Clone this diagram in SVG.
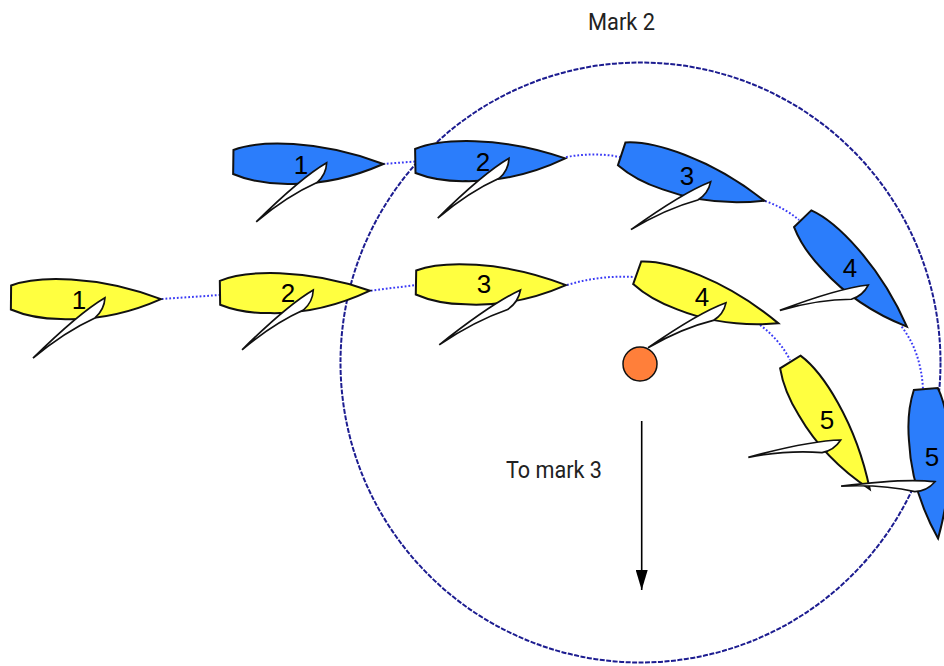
<svg xmlns="http://www.w3.org/2000/svg" xmlns:xlink="http://www.w3.org/1999/xlink" width="944" height="666" viewBox="0 0 944 666">
<style>
.hull{stroke:#111;stroke-width:2;stroke-linejoin:miter}
.blue{fill:#2b7dfb}
.yellow{fill:#ffff40}
.sail{fill:#fff;stroke:#111;stroke-width:1.7;stroke-linejoin:miter}
.num{font-family:"Liberation Sans",Arial,sans-serif;font-size:26px;fill:#000;text-anchor:middle}
.lbl{font-family:Roboto,"Liberation Sans",sans-serif;font-size:24px;fill:#222}
.path{fill:none;stroke:#3a3af5;stroke-width:2;stroke-dasharray:1.8 2}
.ring{fill:none;stroke:#1c1c90;stroke-width:2;stroke-dasharray:5 1.5}
</style>
<defs>
<path id="h" d="M0,-12C25,-22 85,-24 150,0C115,16 80,22 50,21C30,21 12,17 0,12Z"/>
<path id="s" d="M0,0C25,4 60,3 100,0C75,0 45,-3 22,-9C12,-9 5,-5 0,0Z"/>
<marker id="ah" markerUnits="userSpaceOnUse" markerWidth="20" markerHeight="12" refX="20" refY="6" orient="auto" viewBox="0 0 20 12"><path d="M0,0L20,6L0,12Z" fill="#000"/></marker>
</defs>
<g id="connectors">
<circle class="ring" cx="640.5" cy="362.5" r="300"/>
<path class="path" d="M161.7,299L220,295"/>
<path class="path" d="M370.7,290.7L416,285"/>
<path class="path" d="M567,285Q600,275 634,277"/>
<path class="path" d="M760,325Q780,340 790,360"/>
<path class="path" d="M383,164L415,161.5"/>
<path class="path" d="M566,157Q595,152 620,157"/>
<path class="path" d="M765,201Q785,208 799,220"/>
<path class="path" d="M901.7,326.7Q921,352 923,389"/>
<path d="M641.7,421V590" stroke="#000" stroke-width="1.6" fill="none" marker-end="url(#ah)"/>
</g>
<g id="mark2"><circle cx="640" cy="364" r="17" fill="#ff7f3a" stroke="#111" stroke-width="1.5"/></g>
<g id="y1"><use xlink:href="#h" class="hull yellow" transform="translate(11,297.5) rotate(.6)"/><text class="num" x="79" y="309">1</text><use xlink:href="#s" class="sail" transform="translate(105,297.7) rotate(140) scale(.94,1)"/></g>
<g id="y2"><use xlink:href="#h" class="hull yellow" transform="translate(220,292.8) rotate(-.8)"/><text class="num" x="288" y="302">2</text><use xlink:href="#s" class="sail" transform="translate(313.3,290) rotate(140) scale(.93,1)"/></g>
<g id="y3"><use xlink:href="#h" class="hull yellow" transform="translate(416,282.5) rotate(1)"/><text class="num" x="484" y="293">3</text><use xlink:href="#s" class="sail" transform="translate(520.5,290) rotate(146) scale(.98,1)"/></g>
<g id="y4"><use xlink:href="#h" class="hull yellow" transform="translate(637.2,272.8) rotate(19.7)"/><text class="num" x="702" y="306">4</text><use xlink:href="#s" class="sail" transform="translate(726,302.7) rotate(150) scale(.9,1)"/></g>
<g id="y5"><use xlink:href="#h" class="hull yellow" transform="translate(790.3,362) rotate(58)"/><text class="num" x="827" y="429">5</text><use xlink:href="#s" class="sail" transform="translate(840.7,440) rotate(169.4) scale(.94,1)"/></g>
<g id="b1"><use xlink:href="#h" class="hull blue" transform="translate(233.3,162) rotate(.76)"/><text class="num" x="301" y="174">1</text><use xlink:href="#s" class="sail" transform="translate(326.7,162.7) rotate(140) scale(.92,1)"/></g>
<g id="b2"><use xlink:href="#h" class="hull blue" transform="translate(415.3,161) rotate(-1)"/><text class="num" x="483" y="171">2</text><use xlink:href="#s" class="sail" transform="translate(509,158.3) rotate(140) scale(.93,1)"/></g>
<g id="b3"><use xlink:href="#h" class="hull blue" transform="translate(621.7,153.8) rotate(18.2)"/><text class="num" x="687" y="185">3</text><use xlink:href="#s" class="sail" transform="translate(710.7,181.7) rotate(149) scale(.93,1)"/></g>
<g id="b4"><use xlink:href="#h" class="hull blue" transform="translate(802.7,218.7) rotate(46)"/><text class="num" x="850" y="277">4</text><use xlink:href="#s" class="sail" transform="translate(868.3,285) rotate(164) scale(.92,1)"/></g>
<g id="b5"><use xlink:href="#h" class="hull blue" transform="translate(925.8,389) rotate(85.3)"/><text class="num" x="932" y="466">5</text><use xlink:href="#s" class="sail" transform="translate(935,481.7) rotate(177.3) scale(.94,1)"/></g>
<g id="labels">
<text class="lbl" x="588" y="30" textLength="67" lengthAdjust="spacingAndGlyphs">Mark 2</text>
<text class="lbl" x="506" y="478" textLength="96" lengthAdjust="spacingAndGlyphs">To mark 3</text>
</g>
</svg>
